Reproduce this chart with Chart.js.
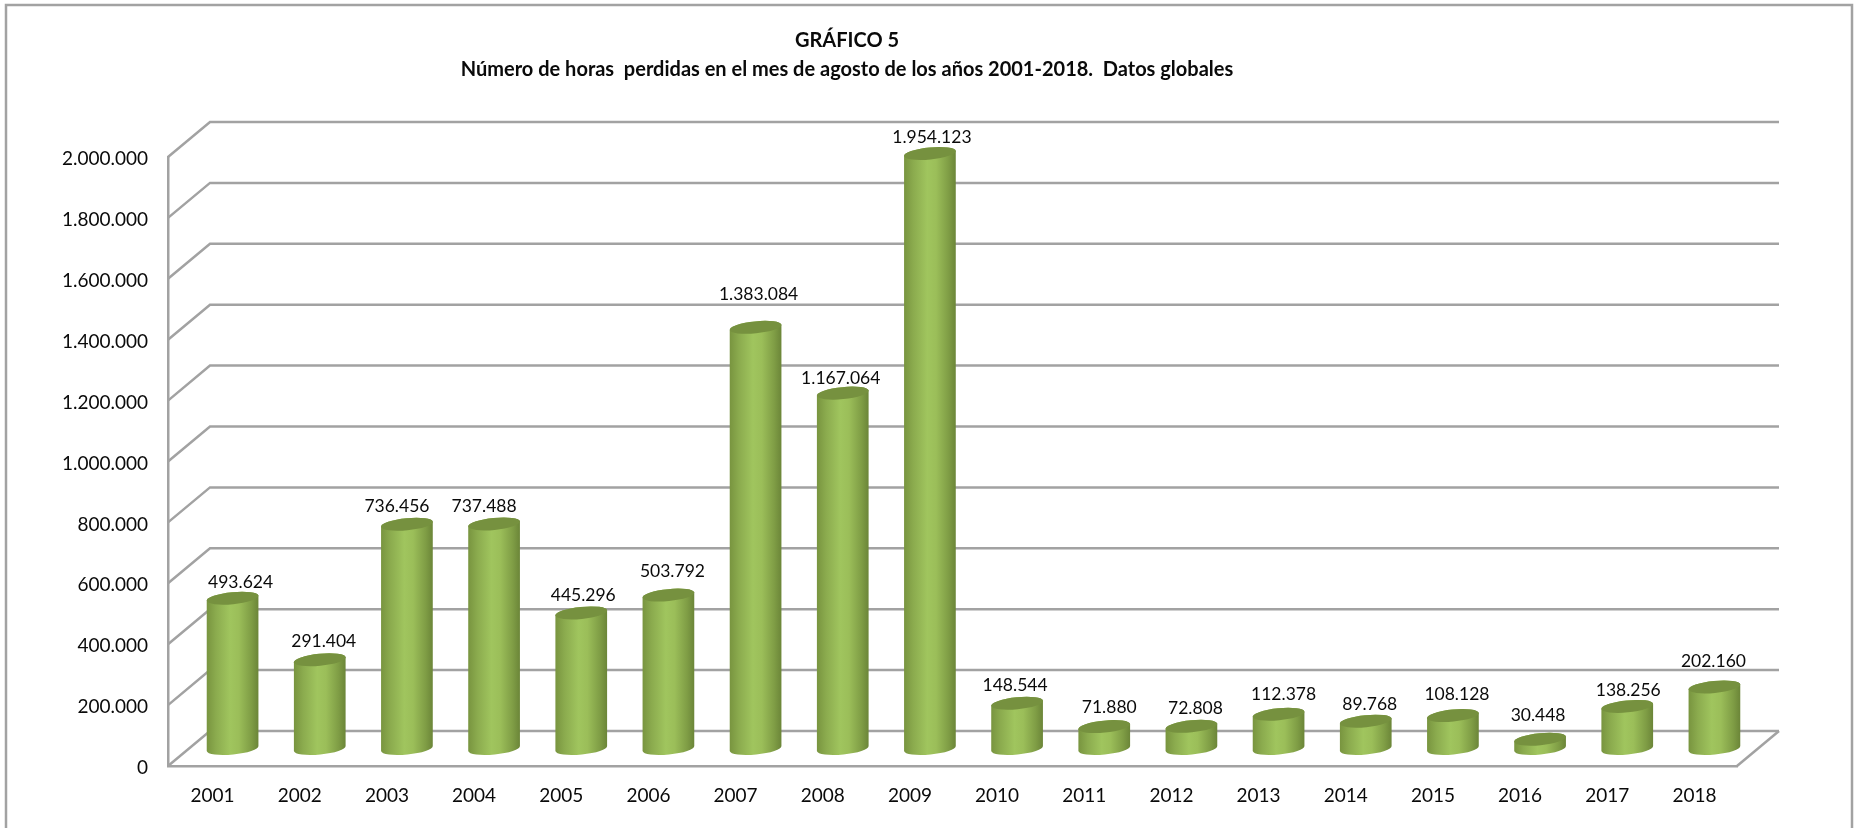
<!DOCTYPE html>
<html>
<head>
<meta charset="utf-8">
<title>Gráfico 5</title>
<script src="https://cdn.jsdelivr.net/npm/chart.js@4"></script>
<style>
  html, body { margin: 0; padding: 0; background: #fff; }
  #wrap { position: relative; width: 1854px; height: 828px; }
</style>
</head>
<body>
<div id="wrap"><canvas id="myChart"></canvas></div>
<script>
const years = ['2001','2002','2003','2004','2005','2006','2007','2008','2009','2010','2011','2012','2013','2014','2015','2016','2017','2018'];
const horas = [493624,291404,736456,737488,445296,503792,1383084,1167064,1954123,148544,71880,72808,112378,89768,108128,30448,138256,202160];
const titleLines = ['GRÁFICO 5', 'Número de horas  perdidas en el mes de agosto de los años 2001-2018.  Datos globales'];

// the value labels were moved by hand in the original, these are the nudges
const labelDx = [5, 1, -13, -13, -1, 1, 0, -5, -1, -5, 2, 1, 2, 1, 1, -5, -2, -4];
const labelDy = [2, 0, 0, 0, 0, -6, -15, 3, 2, 0, -1, 0, -2, 1, -3, -6, 2, -8];

// depth of the fake 3d box
const depthX = 42, depthY = 35;
const gridColor = '#a2a2a2';
const textColor = '#0a0a0a';
const fontName = 'Lato';

const miles = v => String(v).replace(/\B(?=(\d{3})+$)/g, '.');

// bars become tilted cylinders, half way into the box
Chart.BarElement.prototype.draw = function (ctx) {
    const cx = this.x + depthX / 2, r = this.width / 2;
    const top = this.y - depthY / 2, base = this.base - depthY / 2;
    const ry = 6, rot = -0.1;
    const g = ctx.createLinearGradient(cx - r, 0, cx + r, 0);
    g.addColorStop(0, '#78943f');
    g.addColorStop(0.18, '#8bab4e');
    g.addColorStop(0.45, '#a0c55e');
    g.addColorStop(0.62, '#9bbe59');
    g.addColorStop(0.86, '#7f9d45');
    g.addColorStop(1, '#6b8538');
    ctx.save();
    ctx.fillStyle = g;
    ctx.beginPath();
    ctx.ellipse(cx, top, r, ry, rot, Math.PI, 0);
    ctx.ellipse(cx, base, r, ry, rot, 0, Math.PI);
    ctx.closePath();
    ctx.fill();
    ctx.fillStyle = '#76913f';
    ctx.beginPath();
    ctx.ellipse(cx, top, r, ry, rot, 0, Math.PI * 2);
    ctx.fill();
    ctx.restore();
};

const caja = {
    id: 'caja',
    afterLayout(chart) {
        chart.titleBlock.left -= 21.5;
        chart.titleBlock.right -= 21.5;
    },
    beforeDatasetsDraw(chart) {
        const { ctx, chartArea: a, scales: { y } } = chart;
        ctx.save();
        ctx.strokeStyle = gridColor;
        ctx.lineWidth = 2.5;
        // outer frame, open at the bottom
        ctx.beginPath();
        ctx.moveTo(6, 840);
        ctx.lineTo(6, 5);
        ctx.lineTo(1852, 5);
        ctx.lineTo(1852, 840);
        ctx.stroke();
        y.ticks.forEach(t => {
            const py = y.getPixelForValue(t.value);
            ctx.beginPath();
            ctx.moveTo(a.left, py);
            ctx.lineTo(a.left + depthX, py - depthY);
            ctx.lineTo(a.right + depthX, py - depthY);
            ctx.stroke();
        });
        ctx.beginPath();
        ctx.moveTo(a.right, a.bottom);
        ctx.lineTo(a.right + depthX, a.bottom - depthY);
        ctx.stroke();
        ctx.restore();
    },
    afterDatasetsDraw(chart) {
        const { ctx } = chart;
        ctx.save();
        ctx.font = '17.5px ' + fontName;
        ctx.fillStyle = textColor;
        ctx.textAlign = 'center';
        ctx.textBaseline = 'middle';
        chart.getDatasetMeta(0).data.forEach((el, i) => {
            ctx.fillText(miles(horas[i]), el.x + depthX / 2 + 3 + labelDx[i], el.y - depthY / 2 - 18 + labelDy[i]);
        });
        ctx.restore();
    }
};

new Chart(document.getElementById('myChart'), {
    type: 'bar',
    data: {
        labels: years,
        datasets: [{
            label: 'Horas perdidas',
            data: horas,
            backgroundColor: '#9bbb59',
            clip: false,
            categoryPercentage: 1,
            barPercentage: 0.596
        }]
    },
    plugins: [caja],
    options: {
        responsive: true,
        maintainAspectRatio: false,
        animation: false,
        layout: { padding: { right: 117 } },
        plugins: {
            legend: { display: false },
            tooltip: { enabled: false },
            title: {
                display: true,
                text: titleLines,
                color: textColor,
                font: { family: fontName, size: 20, weight: 'bold', lineHeight: 1.45 },
                padding: { top: 26, bottom: 73 }
            }
        },
        scales: {
            x: {
                afterFit: s => { s.height = 62; },
                grid: { display: false, drawTicks: false },
                border: { display: true, color: gridColor, width: 2.5 },
                ticks: { color: textColor, font: { family: fontName, size: 19 }, padding: 18, labelOffset: 1, maxRotation: 0 }
            },
            y: {
                min: 0,
                max: 2000000,
                afterFit: s => { s.width = 168; },
                grid: { display: false, drawTicks: false },
                border: { display: true, color: gridColor, width: 2.5 },
                ticks: { stepSize: 200000, color: textColor, font: { family: fontName, size: 19 }, padding: 20, labelOffset: 2, callback: v => miles(v) }
            }
        }
    }
});
</script>
</body>
</html>
